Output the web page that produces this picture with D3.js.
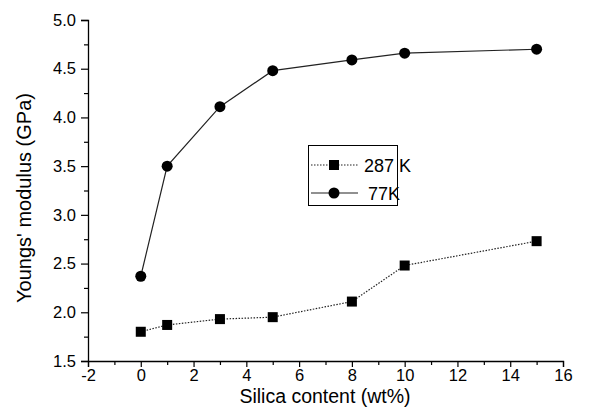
<!DOCTYPE html>
<html lang="en">
<head>
<meta charset="utf-8">
<script src="https://cdn.jsdelivr.net/npm/d3@7"></script>
<style>
  body { margin: 0; background: #fff; }
  text { font-family: "Liberation Sans", Arial, sans-serif; fill: #000; }
</style>
</head>
<body>
<svg id="chart" width="616" height="418"></svg>
<script>
// data
const silica = [0, 1, 3, 5, 8, 10, 15];
const modulus287 = [1.80, 1.87, 1.93, 1.95, 2.11, 2.48, 2.73];
const modulus77 = [2.37, 3.50, 4.11, 4.48, 4.59, 4.66, 4.70];
const xTicks = [-2, 0, 2, 4, 6, 8, 10, 12, 14, 16];
const yTicks = [1.5, 2.0, 2.5, 3.0, 3.5, 4.0, 4.5, 5.0];
const seriesNames = ["287 K", "77K"];

const svg = d3.select("#chart");

const x = d3.scaleLinear().domain([-2, 16]).range([88, 563]);
const y = d3.scaleLinear().domain([1.5, 5.0]).range([361, 20]);

// minor ticks
const xMinor = d3.range(-1, 16, 2);
const yMinor = d3.range(1.75, 5, 0.5);

const gx = svg.append("g").attr("transform", "translate(0,361)");
gx.call(d3.axisBottom(x).tickValues(xTicks).tickSize(6).tickPadding(2)
  .tickFormat(d => String(d)));
gx.append("g").call(d3.axisBottom(x).tickValues(xMinor).tickSize(4).tickFormat(""))
  .select(".domain").remove();

const gy = svg.append("g").attr("transform", "translate(88,0)");
gy.call(d3.axisLeft(y).tickValues(yTicks).tickSize(7).tickPadding(5)
  .tickFormat(d3.format(".1f")));
gy.append("g").call(d3.axisLeft(y).tickValues(yMinor).tickSize(4).tickFormat(""))
  .select(".domain").remove();

svg.selectAll(".domain").attr("stroke", "#000").attr("stroke-width", 1.3);
svg.selectAll(".tick line").attr("stroke", "#000").attr("stroke-width", 1.2);
svg.selectAll(".tick text").attr("font-size", 16.5);

// axis titles
svg.append("text")
  .attr("x", 325).attr("y", 403)
  .attr("text-anchor", "middle")
  .attr("font-size", 19.5)
  .text("Silica content (wt%)");
svg.append("text")
  .attr("transform", "translate(31,198) rotate(-90)")
  .attr("text-anchor", "middle")
  .attr("font-size", 20)
  .text("Youngs' modulus (GPa)");

const line = d3.line().x(d => x(d[0])).y(d => y(d[1]));
const pts287 = silica.map((s, i) => [s, modulus287[i]]);
const pts77 = silica.map((s, i) => [s, modulus77[i]]);

svg.append("path").datum(pts287)
  .attr("d", line).attr("fill", "none")
  .attr("stroke", "#222").attr("stroke-width", 1.2)
  .attr("stroke-dasharray", "1.5,1.5");
svg.append("path").datum(pts77)
  .attr("d", line).attr("fill", "none")
  .attr("stroke", "#222").attr("stroke-width", 1.2);

svg.append("g").selectAll("rect").data(pts287).join("rect")
  .attr("x", d => x(d[0]) - 5).attr("y", d => y(d[1]) - 5)
  .attr("width", 10).attr("height", 10).attr("fill", "#000");
svg.append("g").selectAll("circle").data(pts77).join("circle")
  .attr("cx", d => x(d[0])).attr("cy", d => y(d[1])).attr("r", 5.5)
  .attr("fill", "#000");

// legend
const lg = svg.append("g");
lg.append("rect").attr("x", 308.5).attr("y", 145.5).attr("width", 89).attr("height", 60)
  .attr("fill", "#fff").attr("stroke", "#000").attr("stroke-width", 1);
lg.append("line").attr("x1", 311).attr("x2", 358).attr("y1", 165).attr("y2", 165)
  .attr("stroke", "#222").attr("stroke-width", 1.2).attr("stroke-dasharray", "1.5,1.5");
lg.append("rect").attr("x", 329).attr("y", 160).attr("width", 10).attr("height", 10).attr("fill", "#000");
lg.append("line").attr("x1", 311).attr("x2", 358).attr("y1", 193).attr("y2", 193)
  .attr("stroke", "#222").attr("stroke-width", 1.2);
lg.append("circle").attr("cx", 334).attr("cy", 193).attr("r", 5.5).attr("fill", "#000");
lg.append("text").attr("x", 364).attr("y", 171.5).attr("font-size", 18).text(seriesNames[0]);
lg.append("text").attr("x", 368).attr("y", 199.5).attr("font-size", 18).text(seriesNames[1]);
</script>
</body>
</html>
